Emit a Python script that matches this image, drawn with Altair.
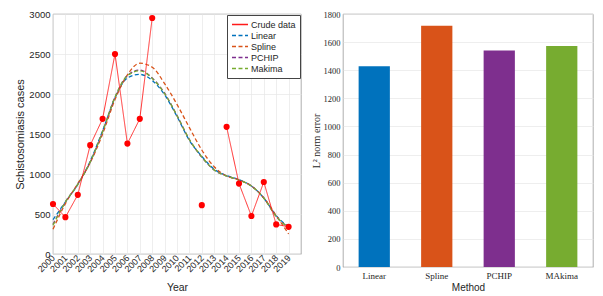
import altair as alt
import pandas as pd

# ---------------- data ----------------
years = list(range(2000, 2020))

crude_years = [2000, 2001, 2002, 2003, 2004, 2005, 2006, 2007, 2008,
               2012,
               2014, 2015, 2016, 2017, 2018, 2019]
crude_vals = [625, 460, 740, 1360, 1690, 2500, 1380, 1690, 2950,
              610,
              1590, 880, 475, 900, 370, 340]
crude_seg = [1, 1, 1, 1, 1, 1, 1, 1, 1,
             2,
             3, 3, 3, 3, 3, 3]

linear = [430, 650, 870, 1160, 1540, 1950, 2200, 2245, 2170, 1990,
          1720, 1420, 1220, 1060, 980, 930, 850, 700, 480, 340]
spline = [310, 630, 880, 1140, 1500, 1930, 2240, 2385, 2335, 2130,
          1870, 1580, 1300, 1090, 975, 925, 850, 700, 480, 250]
pchip = [370, 650, 870, 1150, 1530, 1960, 2230, 2300, 2200, 2010,
         1730, 1430, 1210, 1050, 975, 925, 850, 700, 470, 330]
makima = [360, 650, 870, 1150, 1530, 1960, 2230, 2290, 2195, 2005,
          1730, 1430, 1215, 1050, 975, 925, 850, 700, 470, 330]

series_order = ["Crude data", "Linear", "Spline", "PCHIP", "Makima"]
series_colors = ["#ff1a1a", "#0072BD", "#D95319", "#7E2F8E", "#77AC30"]
series_dash = [[1, 0], [4, 2.5], [4, 2.5], [4, 2.5], [4, 2.5]]

methods = ["Linear", "Spline", "PCHIP", "MAkima"]
errors = [1428, 1716, 1540, 1572]
bar_colors = ["#0072BD", "#D95319", "#7E2F8E", "#77AC30"]

y_ticks_left = [0, 500, 1000, 1500, 2000, 2500, 3000]
y_ticks_right = [0, 200, 400, 600, 800, 1000, 1200, 1400, 1600, 1800]

# ---------------- tables ----------------
crude_df = pd.DataFrame({"year": crude_years, "value": crude_vals,
                         "seg": crude_seg, "series": "Crude data"})
curve_rows = []
for name, vals in [("Linear", linear), ("Spline", spline),
                   ("PCHIP", pchip), ("Makima", makima)]:
    for y, v in zip(years, vals):
        curve_rows.append({"year": y, "value": v, "series": name, "seg": 0})
curves_df = pd.DataFrame(curve_rows)
bar_df = pd.DataFrame({"method": methods, "error": errors})

SANS = "Liberation Sans"
SERIF = "Liberation Serif"
TXT = "#262626"

xscale = alt.Scale(domain=[2000, 2020], nice=False, zero=False)
yscale = alt.Scale(domain=[0, 3000], nice=False)

xaxis = alt.Axis(values=years, format="d", labelAngle=-45, labelAlign="right",
                 labelBaseline="middle", labelFont=SANS, labelFontSize=9,
                 labelPadding=2, titleFont=SANS, titleFontSize=10.5,
                 titleY=28, titleBaseline="top",
                 labelOverlap=False, labelFlush=False, title="Year")
yaxis = alt.Axis(values=y_ticks_left, format="d", labelFont=SANS, labelFontSize=9.5,
                 labelPadding=3, titleFont=SANS, titleFontSize=11,
                 titlePadding=3, title="Schistosomiasis cases")

legend = alt.Legend(title=None, orient="top-right", offset=1,
                    symbolType="stroke", symbolSize=256,
                    symbolStrokeWidth=1.3, labelFont=SANS,
                    labelFontSize=9, labelColor=TXT,
                    labelOffset=2, clipHeight=11,
                    padding=4, fillColor="white",
                    strokeColor="#444", rowPadding=0)

color_enc = alt.Color("series:N",
                      scale=alt.Scale(domain=series_order, range=series_colors),
                      legend=legend)
dash_enc = alt.StrokeDash("series:N",
                          scale=alt.Scale(domain=series_order, range=series_dash),
                          legend=legend)

X = alt.X("year:Q", scale=xscale, axis=xaxis)
Y = alt.Y("value:Q", scale=yscale, axis=yaxis)

curves = alt.Chart(curves_df).mark_line(strokeWidth=1.3, interpolate="monotone").encode(
    x=X, y=Y, color=color_enc, strokeDash=dash_enc, order="year:Q",
)

crude_line = alt.Chart(crude_df).mark_line(strokeWidth=0.9).encode(
    x=X, y=Y, color=color_enc, strokeDash=dash_enc, detail="seg:N", order="year:Q",
)

crude_pts = alt.Chart(crude_df).mark_circle(size=38, color="#ff0000", opacity=1).encode(
    x=X, y=Y,
)

left = alt.layer(curves, crude_line, crude_pts).properties(width=248, height=240)

right = alt.Chart(bar_df).mark_bar().encode(
    x=alt.X("method:N", sort=methods,
            scale=alt.Scale(paddingInner=0.5, paddingOuter=0.25),
            axis=alt.Axis(labelAngle=0, labelFont=SERIF, labelFontSize=9,
                          labelPadding=4, titleFont=SANS, titleFontSize=10,
                          titlePadding=2, grid=False),
            title="Method"),
    y=alt.Y("error:Q", scale=alt.Scale(domain=[0, 1800], nice=False),
            axis=alt.Axis(values=y_ticks_right, format="d", labelFont=SERIF,
                          labelFontSize=8.5, labelPadding=3, titleFont=SERIF,
                          titleFontSize=10, titlePadding=2),
            title="L² norm error"),
    fill=alt.Fill("method:N", scale=alt.Scale(domain=methods, range=bar_colors),
                  legend=None),
).properties(width=250, height=253)

chart = alt.hconcat(left, right, spacing=8).resolve_scale(
    color="independent", fill="independent", strokeDash="independent",
    x="independent", y="independent"
).properties(
    padding={"left": 6, "top": 0, "right": 0, "bottom": 0}
).configure_view(
    stroke="#8c8c8c", strokeWidth=0.7
).configure_axis(
    domain=False, ticks=False, gridColor="#e6e6e6", gridWidth=0.7,
    labelColor=TXT, titleColor=TXT, titleFontWeight="normal"
)

chart.save("out.html", embed_options={"renderer": "svg", "actions": False})
